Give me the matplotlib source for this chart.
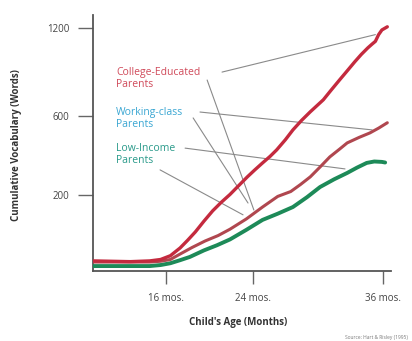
import numpy as np
import matplotlib
matplotlib.use("Agg")
import matplotlib.pyplot as plt

# ---- data (months, cumulative words) ----
college_months = [9.3, 12.7, 14.5, 15.5, 16.4, 17.3, 18.0, 18.7, 19.5, 20.3, 21.1, 21.9, 22.7,
                  23.5, 24.2, 24.9, 25.6, 26.2, 27.0, 27.7, 28.5, 29.3, 30.5, 31.2, 32.0,
                  32.7, 33.4, 34.0, 34.6, 35.0, 35.3, 35.6, 35.9, 36.4]
college_words = [9, 8, 9, 11, 17, 32, 50, 72, 105, 140, 172, 203, 240,
                 279, 312, 345, 378, 411, 465, 520, 575, 626, 700, 760, 829,
                 890, 953, 1005, 1052, 1080, 1100, 1150, 1185, 1209]

working_months = [9.3, 14.5, 15.5, 16.4, 17.3, 18.4, 19.6, 20.8, 21.9, 23.4, 24.9, 26.3, 27.5,
                  28.4, 29.3, 30.2, 31.1, 32.0, 32.7, 33.8, 34.8, 35.6, 36.4]
working_words = [7.5, 7.5, 8.5, 11, 20, 33, 48, 62, 80, 112, 154, 195, 215,
                 245, 279, 325, 375, 415, 448, 478, 503, 530, 561]

low_months = [9.3, 14.5, 15.5, 16.4, 17.3, 18.2, 19.5, 20.7, 21.9, 23.4, 24.9, 26.3, 27.7,
              29.0, 30.2, 31.5, 32.7, 33.6, 34.5, 35.2, 35.9, 36.2]
low_words = [3, 3, 4, 6, 10, 15, 27, 38, 52, 78, 109, 130, 154,
             192, 234, 268, 297, 322, 345, 352, 350, 347]

y_ticks = [200, 600, 1200]
x_ticks = [16, 24, 36]
x_tick_labels = ["16 mos.", "24 mos.", "36 mos."]

labels = ["College-Educated\nParents", "Working-class\nParents", "Low-Income\nParents"]

plt.rcParams['font.family'] = ['Open Sans', 'DejaVu Sans']

W, H = 412, 341
fig = plt.figure(figsize=(W / 100, H / 100), dpi=100)
ax = fig.add_axes([93 / W, 70 / H, 298 / W, 256 / H])

p = 0.65
ax.set_yscale('function', functions=(lambda y: np.sign(y) * np.abs(y) ** p,
                                      lambda y: np.sign(y) * np.abs(y) ** (1 / p)))

c_college = '#c42a3e'
c_working = '#b0474f'
c_low = '#1d8a58'

kw = dict(solid_capstyle='round', solid_joinstyle='round')
ax.plot(low_months, low_words, color=c_low, lw=2.8, zorder=3, **kw)
ax.plot(working_months, working_words, color=c_working, lw=2.2, zorder=4, **kw)
ax.plot(college_months, college_words, color=c_college, lw=2.4, zorder=5, **kw)

ax.set_xlim(9.27, 36.74)
ax.set_ylim(0, 1300)

for s in ['top', 'right']:
    ax.spines[s].set_visible(False)
for s in ['left', 'bottom']:
    ax.spines[s].set_color('#555555')
    ax.spines[s].set_linewidth(1.3)

ax.set_yticks(y_ticks)
ax.set_yticklabels([str(v) for v in y_ticks])
ax.set_xticks(x_ticks)
ax.set_xticklabels(x_tick_labels)
ax.tick_params(axis='y', length=11, width=1, color='#666666', labelsize=7, labelcolor='#444444', pad=6)
ax.tick_params(axis='x', length=9, width=1, color='#666666', labelsize=7, labelcolor='#444444', pad=7)

# labels
text_colors = ['#d04a5a', '#3aa6d2', '#2a9a8a']
text_pos = [(0.077, 0.752), (0.077, 0.596), (0.077, 0.455)]
for lab, col, pos in zip(labels, text_colors, text_pos):
    ax.text(pos[0], pos[1], lab, transform=ax.transAxes, color=col, fontsize=7.5,
            ha='left', va='center', linespacing=1.1)

# leader lines: (start in axes fraction) -> (end in data coords)
leaders = [
    ((0.433, 0.777), (35.3, 1150)),
    ((0.383, 0.746), (24.1, 143)),
    ((0.359, 0.621), (35.0, 520)),
    ((0.336, 0.598), (23.56, 169)),
    ((0.309, 0.480), (32.5, 316)),
    ((0.225, 0.395), (23.1, 126)),
]
for start, end in leaders:
    ax.annotate('', xy=end, xycoords='data', xytext=start, textcoords='axes fraction',
                arrowprops=dict(arrowstyle='-', color='#8a8a8a', lw=0.8,
                                shrinkA=0, shrinkB=0), zorder=2)

fig.text(17 / W, 1 - 145 / H, "Cumulative Vocabulary (Words)", rotation=90,
         ha='center', va='center', fontsize=7, fontweight='bold', color='#333333')
fig.text(238 / W, 1 - 323 / H, "Child's Age (Months)", ha='center', va='center',
         fontsize=7, fontweight='bold', color='#333333')
fig.text(408 / W, 1 - 337 / H, "Source: Hart & Risley (1995)", ha='right', va='center',
         fontsize=3.5, color='#777777')

fig.savefig('out.png', dpi=100)
